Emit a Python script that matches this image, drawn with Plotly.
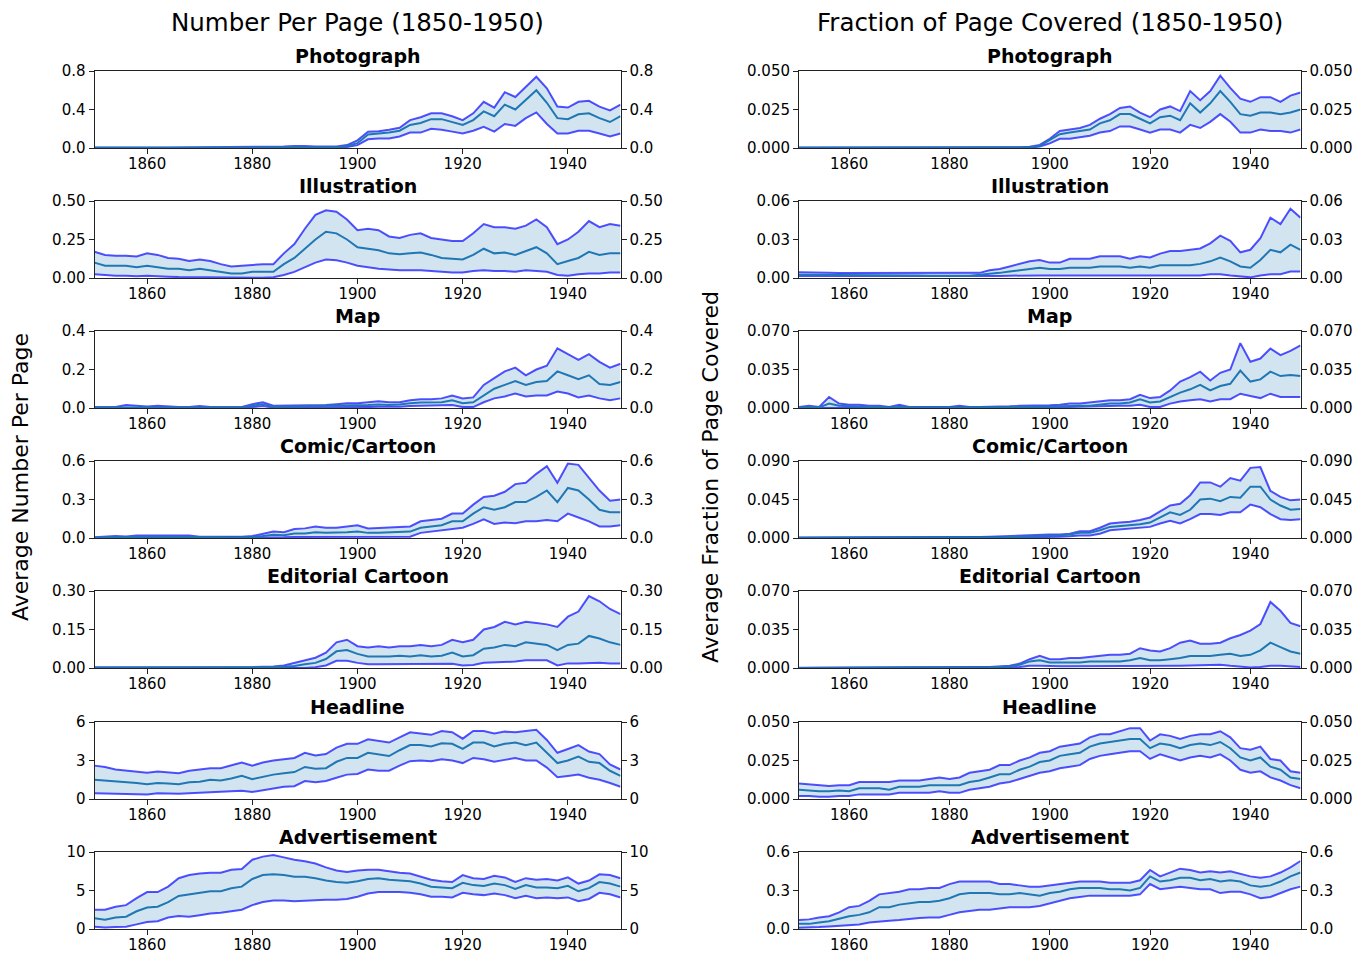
import plotly.graph_objects as go

YEARS = list(range(1850, 1951, 2))

# ---------------- Number per page ----------------
NUM_PHOTO_HIGH = [0.005, 0.006, 0.005, 0.006, 0.008, 0.007, 0.005, 0.004, 0.005, 0.004,
                  0.004, 0.004, 0.004, 0.005, 0.005, 0.005, 0.006, 0.010, 0.015, 0.020,
                  0.022, 0.016, 0.015, 0.015, 0.030, 0.080, 0.170, 0.175, 0.190, 0.210,
                  0.290, 0.320, 0.360, 0.360, 0.330, 0.290, 0.360, 0.480, 0.420, 0.580,
                  0.530, 0.630, 0.740, 0.620, 0.430, 0.420, 0.480, 0.490, 0.430, 0.390,
                  0.450]
NUM_PHOTO_MEAN = [0.002, 0.003, 0.002, 0.003, 0.004, 0.003, 0.002, 0.002, 0.002, 0.002,
                  0.002, 0.002, 0.002, 0.002, 0.002, 0.003, 0.003, 0.005, 0.008, 0.010,
                  0.012, 0.009, 0.008, 0.008, 0.020, 0.050, 0.140, 0.150, 0.160, 0.180,
                  0.240, 0.260, 0.300, 0.300, 0.270, 0.240, 0.290, 0.380, 0.330, 0.450,
                  0.400, 0.500, 0.600, 0.470, 0.310, 0.300, 0.350, 0.360, 0.310, 0.270,
                  0.330]
NUM_PHOTO_LOW = [0.000, 0.001, 0.000, 0.001, 0.001, 0.001, 0.000, 0.000, 0.000, 0.000,
                 0.000, 0.000, 0.000, 0.000, 0.000, 0.001, 0.001, 0.001, 0.002, 0.003,
                 0.004, 0.003, 0.002, 0.002, 0.010, 0.030, 0.090, 0.100, 0.100, 0.120,
                 0.160, 0.160, 0.200, 0.190, 0.170, 0.150, 0.180, 0.220, 0.170, 0.250,
                 0.230, 0.310, 0.370, 0.250, 0.150, 0.150, 0.180, 0.180, 0.150, 0.120,
                 0.150]

NUM_ILLU_HIGH = [0.17, 0.15, 0.145, 0.145, 0.14, 0.16, 0.15, 0.13, 0.125, 0.11,
                 0.12, 0.11, 0.09, 0.075, 0.08, 0.085, 0.09, 0.09, 0.16, 0.22,
                 0.32, 0.41, 0.44, 0.43, 0.38, 0.31, 0.32, 0.31, 0.27, 0.26,
                 0.28, 0.29, 0.26, 0.25, 0.24, 0.24, 0.29, 0.35, 0.33, 0.33,
                 0.32, 0.34, 0.38, 0.33, 0.22, 0.25, 0.30, 0.37, 0.33, 0.35,
                 0.34]
NUM_ILLU_MEAN = [0.10, 0.08, 0.08, 0.08, 0.07, 0.08, 0.07, 0.06, 0.06, 0.05,
                 0.06, 0.05, 0.04, 0.03, 0.03, 0.04, 0.04, 0.04, 0.09, 0.13,
                 0.19, 0.25, 0.30, 0.29, 0.25, 0.20, 0.19, 0.18, 0.16, 0.155,
                 0.16, 0.165, 0.15, 0.13, 0.125, 0.12, 0.15, 0.19, 0.16, 0.165,
                 0.15, 0.175, 0.20, 0.16, 0.09, 0.11, 0.13, 0.17, 0.15, 0.16,
                 0.16]
NUM_ILLU_LOW = [0.025, 0.02, 0.015, 0.015, 0.012, 0.015, 0.01, 0.008, 0.006, 0.005,
                0.008, 0.005, 0.003, 0.002, 0.002, 0.002, 0.002, 0.005, 0.02, 0.04,
                0.07, 0.10, 0.12, 0.115, 0.10, 0.08, 0.07, 0.06, 0.055, 0.05,
                0.05, 0.05, 0.045, 0.04, 0.035, 0.035, 0.045, 0.05, 0.045, 0.045,
                0.04, 0.05, 0.045, 0.04, 0.02, 0.015, 0.025, 0.03, 0.03, 0.035,
                0.035]

NUM_MAP_HIGH = [0.005, 0.005, 0.005, 0.015, 0.01, 0.008, 0.012, 0.008, 0.005, 0.005,
                0.01, 0.005, 0.005, 0.005, 0.005, 0.02, 0.03, 0.012, 0.012, 0.015,
                0.015, 0.015, 0.015, 0.02, 0.025, 0.025, 0.03, 0.035, 0.03, 0.03,
                0.04, 0.045, 0.045, 0.05, 0.065, 0.05, 0.055, 0.12, 0.155, 0.19,
                0.21, 0.17, 0.20, 0.22, 0.31, 0.28, 0.25, 0.28, 0.24, 0.21,
                0.23]
NUM_MAP_MEAN = [0.002, 0.002, 0.002, 0.005, 0.004, 0.003, 0.004, 0.003, 0.002, 0.002,
                0.004, 0.002, 0.002, 0.002, 0.002, 0.012, 0.02, 0.006, 0.007, 0.008,
                0.008, 0.008, 0.008, 0.01, 0.012, 0.012, 0.015, 0.018, 0.015, 0.018,
                0.025, 0.028, 0.03, 0.03, 0.04, 0.025, 0.03, 0.065, 0.10, 0.12,
                0.14, 0.12, 0.135, 0.14, 0.19, 0.17, 0.15, 0.17, 0.125, 0.12,
                0.135]
NUM_MAP_LOW = [0, 0, 0, 0.001, 0.001, 0, 0.001, 0, 0, 0,
               0.001, 0, 0, 0, 0, 0.005, 0.01, 0.002, 0.002, 0.002,
               0.002, 0.002, 0.002, 0.003, 0.003, 0.003, 0.005, 0.006, 0.005, 0.006,
               0.01, 0.012, 0.013, 0.013, 0.015, 0.005, 0.005, 0.03, 0.05, 0.06,
               0.075, 0.06, 0.065, 0.065, 0.085, 0.075, 0.055, 0.065, 0.05, 0.04,
               0.05]

NUM_COMIC_HIGH = [0.005, 0.01, 0.015, 0.012, 0.02, 0.02, 0.02, 0.02, 0.015, 0.02,
                  0.01, 0.01, 0.01, 0.008, 0.01, 0.015, 0.03, 0.05, 0.045, 0.07,
                  0.075, 0.09, 0.08, 0.08, 0.09, 0.10, 0.075, 0.08, 0.085, 0.09,
                  0.09, 0.13, 0.14, 0.15, 0.19, 0.19, 0.26, 0.32, 0.33, 0.36,
                  0.42, 0.43, 0.50, 0.56, 0.43, 0.58, 0.57, 0.47, 0.37, 0.29,
                  0.30]
NUM_COMIC_MEAN = [0.003, 0.005, 0.008, 0.006, 0.01, 0.01, 0.01, 0.01, 0.008, 0.01,
                  0.005, 0.005, 0.005, 0.004, 0.005, 0.008, 0.015, 0.025, 0.022, 0.035,
                  0.035, 0.045, 0.04, 0.04, 0.045, 0.05, 0.04, 0.04, 0.045, 0.045,
                  0.05, 0.08, 0.09, 0.10, 0.13, 0.13, 0.19, 0.24, 0.22, 0.24,
                  0.28, 0.28, 0.32, 0.37, 0.28, 0.39, 0.37, 0.30, 0.22, 0.20,
                  0.20]
NUM_COMIC_LOW = [0, 0, 0, 0, 0, 0, 0, 0, 0, 0,
                 0, 0, 0, 0, 0, 0, 0.003, 0.005, 0.005, 0.008,
                 0.008, 0.01, 0.008, 0.008, 0.01, 0.01, 0.005, 0.005, 0.005, 0.005,
                 0.01, 0.04, 0.05, 0.06, 0.07, 0.08, 0.11, 0.145, 0.11, 0.12,
                 0.115, 0.13, 0.13, 0.14, 0.13, 0.19, 0.16, 0.13, 0.09, 0.09,
                 0.10]

NUM_EDIT_HIGH = [0.003, 0.003, 0.004, 0.004, 0.002, 0.002, 0.002, 0.002, 0.002, 0.003,
                 0.003, 0.003, 0.003, 0.003, 0.003, 0.004, 0.005, 0.006, 0.01, 0.02,
                 0.03, 0.04, 0.06, 0.10, 0.11, 0.085, 0.08, 0.085, 0.08, 0.085,
                 0.085, 0.09, 0.085, 0.09, 0.11, 0.10, 0.11, 0.15, 0.16, 0.18,
                 0.17, 0.18, 0.175, 0.17, 0.16, 0.20, 0.22, 0.28, 0.26, 0.23,
                 0.21]
NUM_EDIT_MEAN = [0.001, 0.001, 0.002, 0.002, 0.001, 0.001, 0.001, 0.001, 0.001, 0.001,
                 0.001, 0.001, 0.001, 0.001, 0.001, 0.002, 0.002, 0.003, 0.005, 0.008,
                 0.015, 0.02, 0.035, 0.065, 0.07, 0.055, 0.045, 0.045, 0.045, 0.048,
                 0.045, 0.05, 0.045, 0.048, 0.06, 0.045, 0.05, 0.075, 0.08, 0.09,
                 0.085, 0.10, 0.095, 0.09, 0.07, 0.09, 0.095, 0.125, 0.115, 0.10,
                 0.09]
NUM_EDIT_LOW = [0, 0, 0, 0, 0, 0, 0, 0, 0, 0,
                0, 0, 0, 0, 0, 0, 0, 0, 0, 0,
                0, 0.003, 0.01, 0.028, 0.028, 0.02, 0.015, 0.015, 0.015, 0.015,
                0.015, 0.015, 0.015, 0.015, 0.017, 0.01, 0.012, 0.02, 0.022, 0.022,
                0.025, 0.03, 0.03, 0.03, 0.01, 0.018, 0.018, 0.02, 0.02, 0.018,
                0.018]

NUM_HEAD_HIGH = [2.6, 2.5, 2.3, 2.2, 2.1, 2.05, 2.15, 2.05, 2.0, 2.2,
                 2.3, 2.4, 2.4, 2.6, 2.85, 2.6, 2.85, 3.0, 3.1, 3.2,
                 3.6, 3.4, 3.5, 4.0, 4.3, 4.3, 4.65, 4.5, 4.4, 4.8,
                 5.2, 5.1, 5.0, 5.3, 5.2, 4.7, 5.3, 5.3, 5.1, 5.25,
                 5.2, 5.3, 5.4, 4.6, 3.6, 3.9, 4.2, 3.7, 3.5, 2.7,
                 2.3]
NUM_HEAD_MEAN = [1.5, 1.45, 1.35, 1.3, 1.25, 1.15, 1.25, 1.2, 1.15, 1.3,
                 1.35, 1.5, 1.45, 1.6, 1.8, 1.55, 1.75, 1.9, 2.0, 2.1,
                 2.5, 2.35, 2.4, 2.9, 3.2, 3.2, 3.6, 3.5, 3.35, 3.8,
                 4.2, 4.2, 4.1, 4.35, 4.3, 3.9, 4.4, 4.4, 4.1, 4.3,
                 4.4, 4.2, 4.4, 3.6, 2.8, 3.0, 3.3, 2.9, 2.8, 2.2,
                 1.8]
NUM_HEAD_LOW = [0.45, 0.42, 0.4, 0.4, 0.35, 0.35, 0.45, 0.42, 0.4, 0.45,
                0.5, 0.55, 0.55, 0.6, 0.65, 0.55, 0.7, 0.85, 0.95, 1.0,
                1.4, 1.3, 1.4, 1.65, 1.9, 1.95, 2.3, 2.2, 2.2, 2.6,
                2.95, 3.0, 2.95, 3.1, 3.0, 2.8, 3.2, 3.1, 2.9, 3.05,
                3.2, 3.0, 3.0, 2.45, 1.7, 1.8, 1.9, 1.65, 1.5, 1.25,
                0.95]

NUM_AD_HIGH = [2.5, 2.5, 2.9, 3.1, 4.0, 4.8, 4.8, 5.5, 6.6, 7.0,
               7.2, 7.3, 7.3, 7.7, 7.8, 9.0, 9.4, 9.6, 9.3, 9.0,
               8.8, 8.5, 8.0, 7.6, 7.4, 7.6, 7.7, 7.7, 7.5, 7.3,
               7.2, 6.8, 6.4, 6.2, 6.1, 7.0, 6.6, 6.5, 6.9, 6.7,
               6.1, 6.6, 6.4, 6.5, 6.3, 6.7, 5.9, 6.3, 7.1, 7.0,
               6.6]
NUM_AD_MEAN = [1.4, 1.2, 1.5, 1.6, 2.3, 2.8, 2.9, 3.5, 4.3, 4.5,
               4.7, 4.9, 4.9, 5.3, 5.5, 6.5, 7.0, 7.1, 7.0, 6.8,
               6.8, 6.6, 6.3, 6.1, 6.0, 6.2, 6.5, 6.6, 6.4, 6.3,
               6.2, 5.9, 5.5, 5.4, 5.3, 6.0, 5.7, 5.6, 5.9, 5.7,
               5.2, 5.7, 5.4, 5.4, 5.3, 5.6, 4.9, 5.3, 6.1, 5.9,
               5.5]
NUM_AD_LOW = [0.3, 0.2, 0.25, 0.3, 0.6, 0.9, 1.0, 1.5, 1.7, 1.6,
              1.8, 2.0, 2.1, 2.3, 2.5, 3.1, 3.5, 3.7, 3.7, 3.6,
              3.7, 3.75, 3.8, 3.8, 3.9, 4.2, 4.6, 4.8, 4.8, 4.8,
              4.7, 4.5, 4.2, 4.2, 4.1, 4.7, 4.5, 4.4, 4.6, 4.4,
              4.0, 4.3, 4.0, 4.1, 4.0, 4.1, 3.6, 3.9, 4.7, 4.5,
              4.1]

# ---------------- Fraction of page covered ----------------
FRAC_PHOTO_HIGH = [0.0003, 0.0003, 0.0003, 0.0003, 0.0003, 0.0004, 0.0003, 0.0003, 0.0003, 0.0003,
                   0.0003, 0.0003, 0.0003, 0.0003, 0.0003, 0.0003, 0.0003, 0.0004, 0.0005, 0.0006,
                   0.0006, 0.0005, 0.0005, 0.0008, 0.002, 0.006, 0.011, 0.012, 0.013, 0.015,
                   0.019, 0.022, 0.026, 0.027, 0.023, 0.020, 0.025, 0.027, 0.024, 0.037,
                   0.031, 0.037, 0.047, 0.039, 0.032, 0.030, 0.033, 0.033, 0.030, 0.034,
                   0.036]
FRAC_PHOTO_MEAN = [0.0001, 0.0001, 0.0001, 0.0001, 0.0001, 0.0001, 0.0001, 0.0001, 0.0001, 0.0001,
                   0.0001, 0.0001, 0.0001, 0.0001, 0.0001, 0.0001, 0.0001, 0.0002, 0.0003, 0.0003,
                   0.0003, 0.0003, 0.0003, 0.0004, 0.0015, 0.005, 0.009, 0.010, 0.011, 0.012,
                   0.016, 0.018, 0.022, 0.022, 0.019, 0.016, 0.020, 0.021, 0.018, 0.029,
                   0.023, 0.029, 0.037, 0.030, 0.022, 0.021, 0.023, 0.023, 0.022, 0.023,
                   0.025]
FRAC_PHOTO_LOW = [0, 0, 0, 0, 0, 0, 0, 0, 0, 0,
                  0, 0, 0, 0, 0, 0, 0, 0, 0, 0,
                  0, 0, 0, 0.0001, 0.001, 0.003, 0.006, 0.006, 0.007, 0.008,
                  0.010, 0.011, 0.014, 0.014, 0.012, 0.010, 0.012, 0.012, 0.010, 0.015,
                  0.013, 0.017, 0.022, 0.017, 0.010, 0.010, 0.012, 0.011, 0.011, 0.010,
                  0.012]

FRAC_ILLU_HIGH = [0.0045, 0.0045, 0.004, 0.004, 0.0038, 0.0038, 0.004, 0.004, 0.0038, 0.0038,
                  0.004, 0.004, 0.0038, 0.0035, 0.0035, 0.0035, 0.0035, 0.0035, 0.004, 0.006,
                  0.007, 0.009, 0.011, 0.013, 0.014, 0.012, 0.012, 0.015, 0.015, 0.015,
                  0.017, 0.017, 0.017, 0.015, 0.017, 0.016, 0.019, 0.021, 0.021, 0.022,
                  0.023, 0.027, 0.033, 0.029, 0.020, 0.022, 0.031, 0.047, 0.042, 0.054,
                  0.047]
FRAC_ILLU_MEAN = [0.0025, 0.0025, 0.0022, 0.0022, 0.002, 0.002, 0.0022, 0.0022, 0.002, 0.002,
                  0.0022, 0.0022, 0.002, 0.0018, 0.0018, 0.0018, 0.0018, 0.0018, 0.0025, 0.003,
                  0.004, 0.005, 0.006, 0.007, 0.008, 0.007, 0.007, 0.008, 0.008, 0.008,
                  0.009, 0.009, 0.009, 0.008, 0.009, 0.008, 0.010, 0.010, 0.010, 0.010,
                  0.011, 0.013, 0.016, 0.013, 0.009, 0.008, 0.014, 0.022, 0.020, 0.026,
                  0.022]
FRAC_ILLU_LOW = [0.0015, 0.0015, 0.0012, 0.0012, 0.001, 0.001, 0.001, 0.001, 0.001, 0.001,
                 0.001, 0.001, 0.001, 0.001, 0.001, 0.001, 0.001, 0.001, 0.001, 0.0012,
                 0.0015, 0.0018, 0.002, 0.002, 0.002, 0.002, 0.002, 0.0022, 0.0022, 0.0022,
                 0.0025, 0.0025, 0.0025, 0.002, 0.002, 0.002, 0.002, 0.002, 0.002, 0.002,
                 0.002, 0.003, 0.003, 0.002, 0.001, 0.0005, 0.002, 0.003, 0.003, 0.005,
                 0.005]

FRAC_MAP_HIGH = [0.001, 0.002, 0.001, 0.010, 0.004, 0.003, 0.003, 0.002, 0.002, 0.001,
                 0.003, 0.001, 0.001, 0.001, 0.001, 0.001, 0.002, 0.001, 0.001, 0.001,
                 0.0015, 0.0015, 0.002, 0.002, 0.0025, 0.0025, 0.003, 0.004, 0.004, 0.005,
                 0.006, 0.007, 0.007, 0.008, 0.012, 0.009, 0.010, 0.016, 0.024, 0.028,
                 0.033, 0.025, 0.032, 0.035, 0.059, 0.042, 0.045, 0.054, 0.048, 0.052,
                 0.057]
FRAC_MAP_MEAN = [0.0005, 0.001, 0.0005, 0.004, 0.002, 0.0015, 0.0015, 0.001, 0.001, 0.0005,
                 0.001, 0.0005, 0.0005, 0.0005, 0.0005, 0.0005, 0.001, 0.0005, 0.0005, 0.0005,
                 0.0008, 0.0008, 0.001, 0.001, 0.0012, 0.0015, 0.0018, 0.002, 0.002, 0.002,
                 0.003, 0.004, 0.004, 0.005, 0.008, 0.005, 0.006, 0.010, 0.014, 0.017,
                 0.021, 0.016, 0.020, 0.022, 0.034, 0.024, 0.026, 0.033, 0.029, 0.030,
                 0.029]
FRAC_MAP_LOW = [0, 0, 0, 0.0005, 0, 0, 0, 0, 0, 0,
                0, 0, 0, 0, 0, 0, 0, 0, 0, 0,
                0.0002, 0.0002, 0.0003, 0.0003, 0.0004, 0.0005, 0.0007, 0.001, 0.001, 0.001,
                0.0015, 0.002, 0.002, 0.002, 0.003, 0.001, 0.001, 0.004, 0.006, 0.007,
                0.008, 0.006, 0.008, 0.008, 0.013, 0.011, 0.009, 0.013, 0.010, 0.010,
                0.010]

FRAC_COMIC_HIGH = [0.0005, 0.0005, 0.0005, 0.0005, 0.0005, 0.0005, 0.0005, 0.0005, 0.0004, 0.0004,
                   0.0004, 0.0004, 0.0004, 0.0004, 0.0004, 0.0005, 0.0008, 0.001, 0.0012, 0.0015,
                   0.002, 0.0022, 0.0025, 0.003, 0.0035, 0.004, 0.004, 0.005, 0.008, 0.008,
                   0.012, 0.017, 0.018, 0.019, 0.021, 0.024, 0.031, 0.038, 0.040, 0.050,
                   0.065, 0.065, 0.060, 0.070, 0.067, 0.082, 0.083, 0.055, 0.048, 0.044,
                   0.045]
FRAC_COMIC_MEAN = [0.0002, 0.0002, 0.0002, 0.0002, 0.0002, 0.0002, 0.0002, 0.0002, 0.0002, 0.0002,
                   0.0002, 0.0002, 0.0002, 0.0002, 0.0002, 0.0003, 0.0004, 0.0005, 0.0006, 0.0008,
                   0.001, 0.0012, 0.0015, 0.002, 0.0025, 0.003, 0.003, 0.004, 0.006, 0.006,
                   0.009, 0.013, 0.014, 0.015, 0.016, 0.018, 0.024, 0.030, 0.027, 0.033,
                   0.045, 0.046, 0.043, 0.048, 0.047, 0.060, 0.060, 0.045, 0.038, 0.033,
                   0.034]
FRAC_COMIC_LOW = [0, 0, 0, 0, 0, 0, 0, 0, 0, 0,
                  0, 0, 0, 0, 0, 0, 0, 0, 0, 0,
                  0.0003, 0.0004, 0.0005, 0.0008, 0.001, 0.001, 0.0015, 0.002, 0.003, 0.003,
                  0.005, 0.009, 0.010, 0.011, 0.012, 0.013, 0.017, 0.020, 0.017, 0.022,
                  0.028, 0.028, 0.027, 0.030, 0.030, 0.039, 0.036, 0.028, 0.022, 0.021,
                  0.022]

FRAC_EDIT_HIGH = [0.0003, 0.0003, 0.0003, 0.0003, 0.0003, 0.0003, 0.0003, 0.0003, 0.0003, 0.0003,
                  0.0003, 0.0003, 0.0003, 0.0003, 0.0003, 0.0003, 0.0004, 0.0005, 0.0008, 0.001,
                  0.0015, 0.002, 0.004, 0.008, 0.011, 0.008, 0.008, 0.009, 0.009, 0.010,
                  0.011, 0.012, 0.012, 0.013, 0.018, 0.016, 0.015, 0.018, 0.023, 0.025,
                  0.022, 0.022, 0.023, 0.027, 0.030, 0.034, 0.040, 0.060, 0.052, 0.041,
                  0.038]
FRAC_EDIT_MEAN = [0.0001, 0.0001, 0.0001, 0.0001, 0.0001, 0.0001, 0.0001, 0.0001, 0.0001, 0.0001,
                  0.0001, 0.0001, 0.0001, 0.0001, 0.0001, 0.0001, 0.0002, 0.0003, 0.0004, 0.0006,
                  0.001, 0.0015, 0.003, 0.006, 0.007, 0.005, 0.005, 0.005, 0.005, 0.006,
                  0.006, 0.006, 0.006, 0.007, 0.009, 0.007, 0.007, 0.008, 0.009, 0.011,
                  0.011, 0.011, 0.012, 0.013, 0.011, 0.012, 0.016, 0.023, 0.019, 0.015,
                  0.013]
FRAC_EDIT_LOW = [0, 0, 0, 0, 0, 0, 0, 0, 0, 0,
                 0, 0, 0, 0, 0, 0, 0, 0, 0, 0,
                 0.0002, 0.0004, 0.001, 0.002, 0.002, 0.0015, 0.0015, 0.0015, 0.0015, 0.0015,
                 0.0015, 0.0015, 0.0015, 0.0015, 0.0015, 0.0015, 0.0018, 0.002, 0.002, 0.0022,
                 0.0025, 0.0025, 0.003, 0.002, 0.001, 0.0005, 0.001, 0.002, 0.002, 0.0015,
                 0.001]

FRAC_HEAD_HIGH = [0.010, 0.0095, 0.009, 0.0085, 0.009, 0.009, 0.011, 0.011, 0.011, 0.011,
                  0.012, 0.012, 0.012, 0.013, 0.014, 0.013, 0.014, 0.017, 0.018, 0.019,
                  0.022, 0.022, 0.025, 0.027, 0.030, 0.031, 0.034, 0.035, 0.036, 0.040,
                  0.042, 0.042, 0.044, 0.046, 0.046, 0.038, 0.042, 0.041, 0.039, 0.041,
                  0.042, 0.042, 0.044, 0.040, 0.033, 0.032, 0.034, 0.026, 0.025, 0.018,
                  0.017]
FRAC_HEAD_MEAN = [0.006, 0.0055, 0.005, 0.005, 0.0055, 0.005, 0.007, 0.007, 0.007, 0.006,
                  0.008, 0.008, 0.008, 0.009, 0.009, 0.009, 0.009, 0.011, 0.012, 0.014,
                  0.016, 0.016, 0.019, 0.021, 0.024, 0.025, 0.028, 0.029, 0.030, 0.034,
                  0.036, 0.037, 0.038, 0.039, 0.039, 0.033, 0.036, 0.035, 0.033, 0.035,
                  0.036, 0.035, 0.037, 0.033, 0.027, 0.025, 0.027, 0.021, 0.019, 0.014,
                  0.013]
FRAC_HEAD_LOW = [0.002, 0.002, 0.0015, 0.0015, 0.002, 0.002, 0.003, 0.003, 0.003, 0.003,
                 0.004, 0.004, 0.004, 0.004, 0.005, 0.004, 0.004, 0.006, 0.007, 0.008,
                 0.010, 0.011, 0.013, 0.015, 0.017, 0.018, 0.020, 0.021, 0.022, 0.026,
                 0.028, 0.029, 0.030, 0.031, 0.031, 0.026, 0.029, 0.027, 0.025, 0.027,
                 0.028, 0.027, 0.029, 0.025, 0.019, 0.017, 0.018, 0.014, 0.012, 0.009,
                 0.007]

FRAC_AD_HIGH = [0.07, 0.075, 0.09, 0.10, 0.13, 0.17, 0.18, 0.22, 0.27, 0.28,
                0.29, 0.31, 0.31, 0.32, 0.32, 0.35, 0.37, 0.37, 0.37, 0.37,
                0.35, 0.35, 0.34, 0.33, 0.33, 0.34, 0.35, 0.36, 0.37, 0.37,
                0.37, 0.36, 0.36, 0.36, 0.38, 0.46, 0.41, 0.44, 0.47, 0.46,
                0.44, 0.45, 0.44, 0.45, 0.43, 0.41, 0.40, 0.41, 0.44, 0.48,
                0.53]
FRAC_AD_MEAN = [0.04, 0.04, 0.05, 0.06, 0.08, 0.10, 0.11, 0.13, 0.17, 0.17,
                0.19, 0.20, 0.21, 0.21, 0.22, 0.24, 0.27, 0.28, 0.28, 0.28,
                0.27, 0.27, 0.28, 0.27, 0.26, 0.28, 0.29, 0.31, 0.32, 0.32,
                0.32, 0.31, 0.31, 0.30, 0.32, 0.41, 0.37, 0.38, 0.40, 0.40,
                0.38, 0.39, 0.37, 0.38, 0.37, 0.34, 0.33, 0.34, 0.37, 0.41,
                0.44]
FRAC_AD_LOW = [0.01, 0.01, 0.015, 0.02, 0.025, 0.03, 0.035, 0.05, 0.06, 0.065,
               0.07, 0.08, 0.085, 0.09, 0.09, 0.11, 0.13, 0.14, 0.15, 0.15,
               0.16, 0.17, 0.17, 0.17, 0.18, 0.20, 0.22, 0.24, 0.25, 0.26,
               0.26, 0.26, 0.26, 0.26, 0.27, 0.35, 0.31, 0.32, 0.33, 0.32,
               0.31, 0.31, 0.28, 0.29, 0.29, 0.27, 0.24, 0.25, 0.28, 0.31,
               0.33]

CATEGORIES = ["Photograph", "Illustration", "Map", "Comic/Cartoon",
              "Editorial Cartoon", "Headline", "Advertisement"]
X_TICKS = [1860, 1880, 1900, 1920, 1940]

NUM_SERIES = [(NUM_PHOTO_LOW, NUM_PHOTO_MEAN, NUM_PHOTO_HIGH),
              (NUM_ILLU_LOW, NUM_ILLU_MEAN, NUM_ILLU_HIGH),
              (NUM_MAP_LOW, NUM_MAP_MEAN, NUM_MAP_HIGH),
              (NUM_COMIC_LOW, NUM_COMIC_MEAN, NUM_COMIC_HIGH),
              (NUM_EDIT_LOW, NUM_EDIT_MEAN, NUM_EDIT_HIGH),
              (NUM_HEAD_LOW, NUM_HEAD_MEAN, NUM_HEAD_HIGH),
              (NUM_AD_LOW, NUM_AD_MEAN, NUM_AD_HIGH)]
FRAC_SERIES = [(FRAC_PHOTO_LOW, FRAC_PHOTO_MEAN, FRAC_PHOTO_HIGH),
               (FRAC_ILLU_LOW, FRAC_ILLU_MEAN, FRAC_ILLU_HIGH),
               (FRAC_MAP_LOW, FRAC_MAP_MEAN, FRAC_MAP_HIGH),
               (FRAC_COMIC_LOW, FRAC_COMIC_MEAN, FRAC_COMIC_HIGH),
               (FRAC_EDIT_LOW, FRAC_EDIT_MEAN, FRAC_EDIT_HIGH),
               (FRAC_HEAD_LOW, FRAC_HEAD_MEAN, FRAC_HEAD_HIGH),
               (FRAC_AD_LOW, FRAC_AD_MEAN, FRAC_AD_HIGH)]

NUM_YTICKS = [(0, 0.4, 0.8), (0, 0.25, 0.5), (0, 0.2, 0.4), (0, 0.3, 0.6),
              (0, 0.15, 0.3), (0, 3, 6), (0, 5, 10)]
NUM_YLABELS = [("0.0", "0.4", "0.8"), ("0.00", "0.25", "0.50"), ("0.0", "0.2", "0.4"),
               ("0.0", "0.3", "0.6"), ("0.00", "0.15", "0.30"), ("0", "3", "6"),
               ("0", "5", "10")]
FRAC_YTICKS = [(0, 0.025, 0.05), (0, 0.03, 0.06), (0, 0.035, 0.07), (0, 0.045, 0.09),
               (0, 0.035, 0.07), (0, 0.025, 0.05), (0, 0.3, 0.6)]
FRAC_YLABELS = [("0.000", "0.025", "0.050"), ("0.00", "0.03", "0.06"),
                ("0.000", "0.035", "0.070"), ("0.000", "0.045", "0.090"),
                ("0.000", "0.035", "0.070"), ("0.000", "0.025", "0.050"),
                ("0.0", "0.3", "0.6")]

for grp in (NUM_SERIES, FRAC_SERIES):
    for trio in grp:
        for s in trio:
            assert len(s) == len(YEARS), len(s)

# ---------------- layout geometry (pixels in the page) ----------------
W, H = 1370, 954
OFF = 8  # default page margin of the html body
COL_X = [(94.5, 620.5), (799.0, 1300.5)]
ROW_TOP = [71, 201, 331, 461, 591, 722, 852]
ROW_H = 77


def px(xp):
    return (xp - OFF) / W


def py(yp):
    return 1 - (yp - OFF) / H


FONT = "DejaVu Sans"
BOUND = "rgba(0,0,255,0.68)"
MEANC = "#1f77b4"
FILLC = "rgba(31,119,180,0.2)"
AXC = "#222222"

fig = go.Figure()
layout = dict(width=W, height=H, autosize=False,
              margin=dict(l=0, r=0, t=0, b=0, pad=0),
              paper_bgcolor="white", plot_bgcolor="white",
              showlegend=False, font=dict(family=FONT, size=15, color="black"))
annotations = []

columns = [(NUM_SERIES, NUM_YTICKS, NUM_YLABELS), (FRAC_SERIES, FRAC_YTICKS, FRAC_YLABELS)]
for c, (series, yticks, ylabels) in enumerate(columns):
    for r in range(7):
        k = c * 7 + r + 1
        kr = k + 14
        sx = "" if k == 1 else str(k)
        sy = "" if k == 1 else str(k)
        sy2 = str(kr)
        low, mean, high = series[r]
        xd = [px(COL_X[c][0]), px(COL_X[c][1])]
        yd = [py(ROW_TOP[r] + ROW_H), py(ROW_TOP[r])]
        yr = [yticks[r][0], yticks[r][-1]]

        fig.add_trace(go.Scatter(x=YEARS, y=low, xaxis="x" + sx, yaxis="y" + sy,
                                 mode="lines", line=dict(color=BOUND, width=2),
                                 hoverinfo="skip"))
        fig.add_trace(go.Scatter(x=YEARS, y=high, xaxis="x" + sx, yaxis="y" + sy,
                                 mode="lines", line=dict(color=BOUND, width=2),
                                 fill="tonexty", fillcolor=FILLC, hoverinfo="skip"))
        fig.add_trace(go.Scatter(x=YEARS, y=mean, xaxis="x" + sx, yaxis="y" + sy2,
                                 mode="lines", line=dict(color=MEANC, width=2),
                                 hoverinfo="skip"))

        common = dict(showgrid=False, zeroline=False, ticks="outside", ticklen=5,
                      tickwidth=1, tickcolor=AXC, automargin=False,
                      tickfont=dict(family=FONT, size=15, color="black"))
        layout["xaxis" + sx] = dict(domain=xd, anchor="y" + sy, range=[1850, 1950],
                                    tickvals=X_TICKS, showline=True, linecolor=AXC,
                                    linewidth=1, mirror=True, ticklabelstandoff=-3,
                                    **common)
        layout["yaxis" + sy] = dict(domain=yd, anchor="x" + sx, range=yr,
                                    tickvals=list(yticks[r]), ticktext=list(ylabels[r]),
                                    showline=True, linecolor=AXC, linewidth=1,
                                    mirror=True, **common)
        layout["yaxis" + sy2] = dict(overlaying="y" + sy, anchor="x" + sx, side="right",
                                     range=yr, tickvals=list(yticks[r]),
                                     ticktext=list(ylabels[r]), showline=False, **common)

        annotations.append(dict(text="<b>" + CATEGORIES[r] + "</b>", xref="paper",
                                yref="paper", x=(xd[0] + xd[1]) / 2,
                                y=py(ROW_TOP[r] - 15), xanchor="center",
                                yanchor="middle", showarrow=False,
                                font=dict(family=FONT, size=19, color="black")))

annotations.append(dict(text="Number Per Page (1850-1950)", xref="paper", yref="paper",
                        x=px((COL_X[0][0] + COL_X[0][1]) / 2), y=py(22),
                        xanchor="center", yanchor="middle", showarrow=False,
                        font=dict(family=FONT, size=24.5, color="black")))
annotations.append(dict(text="Fraction of Page Covered (1850-1950)", xref="paper",
                        yref="paper", x=px((COL_X[1][0] + COL_X[1][1]) / 2),
                        y=py(22), xanchor="center", yanchor="middle",
                        showarrow=False, font=dict(family=FONT, size=24.5, color="black")))
annotations.append(dict(text="Average Number Per Page", xref="paper", yref="paper",
                        x=px(20), y=py(477), xanchor="center", yanchor="middle",
                        textangle=-90, showarrow=False,
                        font=dict(family=FONT, size=22, color="black")))
annotations.append(dict(text="Average Fraction of Page Covered", xref="paper",
                        yref="paper", x=px(710), y=py(477), xanchor="center",
                        yanchor="middle", textangle=-90, showarrow=False,
                        font=dict(family=FONT, size=22, color="black")))

layout["annotations"] = annotations
fig.update_layout(**layout)
fig.write_html("out.html")
